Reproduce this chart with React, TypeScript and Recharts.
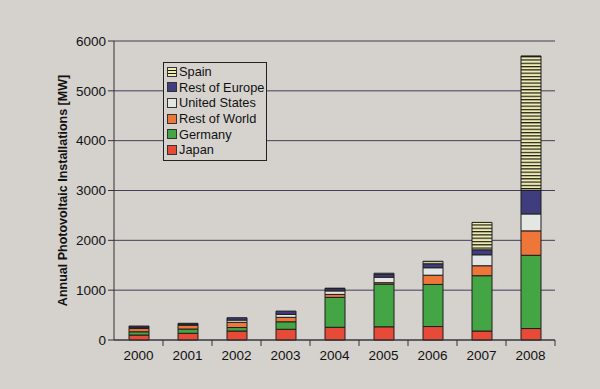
import { BarChart, Bar, XAxis, YAxis, CartesianGrid, ReferenceLine } from 'recharts';

const years = ['2000', '2001', '2002', '2003', '2004', '2005', '2006', '2007', '2008'];
const japan = [100, 135, 180, 215, 255, 265, 270, 180, 230];
const germany = [65, 85, 70, 150, 600, 855, 845, 1110, 1470];
const restOfWorld = [65, 75, 105, 90, 60, 30, 185, 200, 490];
const unitedStates = [25, 20, 45, 60, 70, 110, 150, 220, 340];
const restOfEurope = [25, 20, 47, 65, 45, 60, 80, 100, 470];
const spain = [0, 0, 0, 0, 10, 20, 50, 550, 2700];
const yTicks = [0, 1000, 2000, 3000, 4000, 5000, 6000];

const data = years.map((year, i) => ({
  year,
  japan: japan[i],
  germany: germany[i],
  restOfWorld: restOfWorld[i],
  unitedStates: unitedStates[i],
  restOfEurope: restOfEurope[i],
  spain: spain[i],
}));

const series = [
  { key: 'spain', name: 'Spain', fill: 'url(#spainStripes)' },
  { key: 'restOfEurope', name: 'Rest of Europe', fill: '#3f3d7e' },
  { key: 'unitedStates', name: 'United States', fill: '#e4e6e3' },
  { key: 'restOfWorld', name: 'Rest of World', fill: '#ee7639' },
  { key: 'germany', name: 'Germany', fill: '#44a545' },
  { key: 'japan', name: 'Japan', fill: '#e74b37' },
];

const stackOrder = ['japan', 'germany', 'restOfWorld', 'unitedStates', 'restOfEurope', 'spain'];
const font = '"Liberation Sans", Arial, sans-serif';

function XTick(props: any) {
  const { x, y, payload } = props;
  return (
    <g>
      <line x1={x + 24.5} y1={y - 8} x2={x + 24.5} y2={y - 2} stroke="#333" />
      <text x={x} y={y + 12} textAnchor="middle" fontSize={13.5} fill="#111" fontFamily={font}>
        {payload.value}
      </text>
    </g>
  );
}

function LegendBox() {
  return (
    <div
      style={{
        position: 'absolute',
        left: 163,
        top: 62,
        border: '1px solid #222',
        background: '#d6d3cf',
        padding: '1px 2px 2px 3px',
        fontFamily: font,
        fontSize: 12.8,
        color: '#111',
        whiteSpace: 'nowrap',
      }}
    >
      {series.map((s) => (
        <div key={s.key} style={{ display: 'flex', alignItems: 'center', height: 15.6 }}>
          <svg width={10} height={10} style={{ marginRight: 2 }}>
            <defs>
              <pattern id={`lg-${s.key}`} width={4} height={3} patternUnits="userSpaceOnUse">
                <rect width={4} height={3} fill="#efecb0" />
                <rect width={4} height={1} fill="#1a1a1a" />
              </pattern>
            </defs>
            <rect x={0.5} y={0.5} width={9} height={9} fill={s.key === 'spain' ? `url(#lg-${s.key})` : s.fill} stroke="#333" />
          </svg>
          <span>{s.name}</span>
        </div>
      ))}
    </div>
  );
}

export default function App() {
  return (
    <div style={{ position: 'absolute', left: 0, top: 0, width: 600, height: 389, background: '#d5d1cd' }}>
      <BarChart
        width={600}
        height={389}
        data={data}
        margin={{ top: 41, right: 45, bottom: 19, left: 0 }}
        barSize={20}
      >
        <defs>
          <pattern id="spainStripes" width={4} height={3.3} patternUnits="userSpaceOnUse">
            <rect width={4} height={3.3} fill="#efecb0" />
            <rect width={4} height={1.2} fill="#1a1a1a" />
          </pattern>
        </defs>
        <CartesianGrid vertical={false} stroke="#453d5c" strokeWidth={1} />
        <XAxis
          dataKey="year"
          tick={<XTick />}
          tickLine={false}
          axisLine={{ stroke: '#333' }}
          interval={0}
        />
        <YAxis
          domain={[0, 6000]}
          ticks={yTicks}
          width={114}
          tickSize={6}
          tick={{ fontSize: 13.5, fill: '#111', fontFamily: font }}
          tickLine={{ stroke: '#333' }}
          axisLine={{ stroke: '#333' }}
          label={{
            value: 'Annual Photovoltaic Installations [MW]',
            angle: -90,
            position: 'center',
            dx: 6,
            style: { fontSize: 12.5, fontWeight: 'bold', fill: '#111', fontFamily: font },
          }}
        />
        <YAxis yAxisId="right" orientation="right" width={0} tick={false} axisLine={{ stroke: '#8a8690' }} />
        <ReferenceLine y={6000} stroke="#8a8690" />
        {stackOrder.map((key) => {
          const s = series.find((x) => x.key === key)!;
          return (
            <Bar
              key={key}
              dataKey={key}
              name={s.name}
              stackId="a"
              fill={s.fill}
              stroke="#1e1e1e"
              strokeWidth={1}
              isAnimationActive={false}
            />
          );
        })}
      </BarChart>
      <LegendBox />
    </div>
  );
}
